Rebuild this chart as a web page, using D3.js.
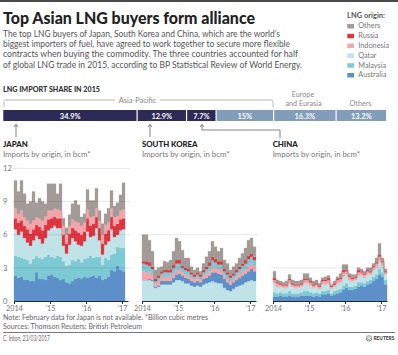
<!DOCTYPE html>
<html><head><meta charset="utf-8">
<script src="https://cdn.jsdelivr.net/npm/d3@7"></script>
<style>body{margin:0;background:#fff}svg{display:block}text{font-family:Lato,"Open Sans",sans-serif}</style>
</head><body><svg id="c" width="398" height="355"></svg>
<script>
// ---------- DATA ----------
const origins = ["Others","Russia","Indonesia","Qatar","Malaysia","Australia"];
const yearLabels = ["2014","'15","'16","'17"];
const yearTickMonths = [0,12,24,36];
const japanYTicks = [0,3,6,9,12];
const japanGrid = [3,6,9,12];
const koreaGrid = [3,6];
const chinaGrid = [3];

const shareRegions = ["Japan","South Korea","China","Other Asia-Pacific","Europe and Eurasia","Others"];
const shareValues = [34.9,12.9,7.7,15,16.3,13.2];
const shareLabels = ["34.9%","12.9%","7.7%","15%","16.3%","13.2%"];

// Japan, Jan 2014 - Jan 2017 (bcm)
const japanAustralia = [2.3,2.1,2.2,1.9,1.9,1.8,1.8,2.6,2.0,2.0,1.9,2.3, 2.4,2.2,2.1,1.9,2.0,1.7,1.6,1.8,2.0,2.1,2.0,2.2, 2.1,2.2,2.3,2.1,2.3,1.9,2.0,2.2,2.8,2.7,3.2,2.8, 2.7];
const japanMalaysia  = [1.8,1.9,1.7,1.9,1.8,1.6,2.0,1.5,1.9,1.8,2.1,1.9, 1.6,1.7,2.0,2.1,1.6,1.5,1.7,1.9,1.6,1.7,1.5,1.6, 1.8,1.9,1.6,1.9,1.7,1.4,1.9,1.5,1.4,1.6,1.7,2.0, 2.1];
const japanQatar     = [2.4,2.0,2.4,1.9,1.6,1.6,1.7,1.8,1.7,1.4,1.7,2.2, 2.6,2.9,2.5,2.6,1.4,1.1,1.8,2.0,1.8,1.3,1.5,1.6, 2.4,1.7,2.0,2.6,1.5,0.9,1.2,1.7,2.3,1.5,1.1,1.6, 1.7];
const japanRussia    = [1.0,1.1,1.0,1.1,1.2,1.1,1.0,1.0,1.1,1.2,1.2,1.0, 0.9,0.8,0.9,0.9,1.0,0.9,1.0,0.9,1.0,1.1,1.0,0.9, 1.2,1.0,1.1,1.0,1.1,1.0,1.0,1.0,1.1,1.0,1.0,1.0, 1.0];
const japanIndonesia = [0.9,0.8,0.9,0.8,0.8,0.9,0.8,0.7,0.8,0.9,0.8,0.8, 0.7,0.8,0.8,0.7,0.8,0.8,0.7,0.8,0.8,0.9,0.8,0.8, 0.8,0.8,0.7,0.8,0.7,0.8,0.8,0.7,0.8,0.8,0.7,0.8, 0.8];
const japanOthers    = [2.5,2.0,2.7,2.1,1.5,2.0,2.6,1.3,1.8,1.7,1.1,2.4, 2.4,2.2,1.4,2.4,0.7,0.6,1.0,1.4,1.9,1.6,0.8,0.8, 1.8,1.5,1.4,1.8,0.9,1.0,1.0,1.3,1.6,1.0,1.2,1.4, 2.4];

// South Korea, Jan 2014 - Feb 2017 (bcm)
const koreaQatar     = [1.9,1.9,1.9,1.8,1.2,1.3,1.5,1.5,1.5,1.5,1.7,1.9, 1.9,1.8,1.6,1.6,1.4,1.3,1.4,1.3,1.5,1.6,1.7,1.8, 1.7,1.6,1.6,1.2,1.0,0.9,1.1,1.3,1.4,1.5,1.7,1.8, 1.9,1.8];
const koreaAustralia = [0.0,0.0,0.1,0.1,0.1,0.1,0.3,0.3,0.3,0.3,0.4,0.5, 0.6,0.5,0.5,0.4,0.4,0.4,0.4,0.4,0.5,0.5,0.6,0.8, 0.9,0.9,0.8,0.8,0.7,0.6,0.6,0.6,0.7,0.8,0.8,0.9, 1.0,0.9];
const koreaIndonesia = [0.8,0.7,0.6,0.5,0.3,0.4,0.4,0.4,0.4,0.4,0.4,0.4, 0.4,0.3,0.3,0.3,0.3,0.3,0.3,0.3,0.3,0.4,0.4,0.5, 0.4,0.4,0.4,0.3,0.3,0.3,0.3,0.3,0.4,0.4,0.4,0.5, 0.5,0.5];
const koreaMalaysia  = [0.7,0.7,0.6,0.5,0.2,0.3,0.3,0.4,0.4,0.4,0.5,0.6, 0.5,0.4,0.4,0.4,0.3,0.2,0.3,0.2,0.3,0.4,0.5,0.6, 0.5,0.4,0.5,0.4,0.4,0.3,0.3,0.4,0.4,0.5,0.5,0.6, 0.6,0.5];
const koreaRussia    = [0.2,0.3,0.3,0.2,0.2,0.2,0.2,0.2,0.2,0.2,0.3,0.3, 0.3,0.2,0.2,0.2,0.2,0.2,0.2,0.2,0.2,0.2,0.3,0.3, 0.3,0.3,0.3,0.2,0.2,0.2,0.2,0.2,0.2,0.2,0.3,0.3, 0.3,0.3];
const koreaOthers    = [2.4,2.4,2.0,1.4,0.8,0.7,0.4,0.8,0.7,0.9,1.2,2.0, 1.7,1.4,0.9,1.0,0.5,0.4,0.4,0.3,0.6,0.9,1.0,1.4, 1.1,0.9,1.2,0.8,0.8,0.5,0.6,0.6,0.8,0.9,1.1,1.4, 1.4,0.9];

// China, Jan 2014 - Feb 2017 (bcm)
const chinaAustralia = [0.4,0.4,0.5,0.4,0.4,0.5,0.4,0.4,0.4,0.5,0.5,0.5, 0.5,0.4,0.5,0.4,0.6,0.6,0.7,0.5,0.6,0.7,0.8,1.0, 1.2,1.0,1.0,1.1,1.3,1.4,1.3,1.5,1.6,1.8,2.0,2.4, 2.2,1.5];
const chinaMalaysia  = [0.4,0.3,0.3,0.3,0.3,0.4,0.3,0.3,0.3,0.3,0.4,0.4, 0.3,0.3,0.3,0.3,0.3,0.3,0.3,0.2,0.3,0.3,0.3,0.4, 0.4,0.3,0.3,0.3,0.4,0.3,0.3,0.3,0.3,0.4,0.4,0.5, 0.4,0.4];
const chinaQatar     = [0.8,0.6,0.5,0.5,0.5,0.7,0.6,0.5,0.5,0.5,0.7,0.7, 0.6,0.5,0.5,0.4,0.6,0.6,0.6,0.4,0.4,0.6,0.6,0.8, 0.8,0.6,0.5,0.5,0.6,0.6,0.5,0.6,0.5,0.6,0.7,0.8, 0.6,0.5];
const chinaIndonesia = [0.3,0.3,0.2,0.2,0.2,0.3,0.2,0.2,0.2,0.2,0.3,0.3, 0.3,0.2,0.2,0.2,0.3,0.3,0.3,0.2,0.2,0.3,0.3,0.4, 0.3,0.3,0.2,0.2,0.3,0.3,0.3,0.3,0.2,0.3,0.3,0.3, 0.3,0.2];
const chinaRussia    = [0.2,0.1,0.1,0.1,0.1,0.1,0.1,0.1,0.1,0.1,0.1,0.1, 0.1,0.1,0.1,0.1,0.1,0.1,0.2,0.1,0.1,0.1,0.1,0.2, 0.1,0.1,0.1,0.1,0.2,0.1,0.1,0.1,0.1,0.1,0.1,0.2, 0.1,0.1];
const chinaOthers    = [0.6,0.2,0.2,0.2,0.3,0.4,0.3,0.3,0.3,0.3,0.5,0.5, 0.3,0.3,0.3,0.2,0.2,0.3,0.2,0.1,0.2,0.2,0.4,0.5, 0.5,0.2,0.3,0.2,0.2,0.2,0.2,0.2,0.3,0.2,0.4,1.0, 0.3,0.2];

// ---------- STYLE ----------
const originColors = {Others:"#a39b97", Russia:"#e0353f", Indonesia:"#f2a6ab", Qatar:"#c0e3e8", Malaysia:"#7dcad4", Australia:"#5d8fca"};
const svg = d3.select("#c");

// top rule
svg.append("rect").attr("x",0).attr("y",0).attr("width",398).attr("height",2).attr("fill","#4a4a4a");

// title
svg.append("text").attr("x",3).attr("y",24).attr("font-size",16.2).attr("font-weight",900)
  .attr("fill","#222").attr("textLength",252).attr("lengthAdjust","spacingAndGlyphs")
  .text("Top Asian LNG buyers form alliance");

const para = [
  ["The top LNG buyers of Japan, South Korea and China, which are the world\u2019s",277],
  ["biggest importers of fuel, have agreed to work together to secure more flexible",287],
  ["contracts when buying the commodity. The three countries accounted for half",295],
  ["of global LNG trade in 2015, according to BP Statistical Review of World Energy.",299]
];
para.forEach((p,i)=>{
  svg.append("text").attr("x",3).attr("y",36.7+i*10.33).attr("font-size",9.6).attr("fill","#555")
    .attr("textLength",p[1]).attr("lengthAdjust","spacingAndGlyphs").text(p[0]);
});

// legend
svg.append("text").attr("x",347).attr("y",18).attr("font-size",7.5).attr("font-weight",700).attr("fill","#555").text("LNG origin:");
origins.forEach((o,i)=>{
  svg.append("rect").attr("x",347.3).attr("y",24+i*9.8).attr("width",6.7).attr("height",4.5).attr("fill",originColors[o]);
  svg.append("text").attr("x",358.3).attr("y",28.3+i*9.8).attr("font-size",7.3).attr("fill","#777").text(o);
});

// share section
svg.append("text").attr("x",3).attr("y",92).attr("font-size",7.6).attr("font-weight",900).attr("fill","#333")
  .attr("textLength",97).attr("lengthAdjust","spacingAndGlyphs").text("LNG IMPORT SHARE IN 2015");

const sx = d3.scaleLinear().domain([0,100]).range([3.3,386.7]);
const cum = [0, ...d3.cumsum(shareValues)];
const barColors = ["#2c2a56","#2c2a56","#2c2a56","#819db9","#819db9","#819db9"];
shareValues.forEach((v,i)=>{
  const xa = sx(cum[i]), xb = sx(cum[i+1]);
  svg.append("rect").attr("x",xa + (i?0.6:0)).attr("y",110).attr("width",xb-xa-(i?0.6:0)-0.6).attr("height",11).attr("fill",barColors[i]);
  svg.append("text").attr("x",(xa+xb)/2).attr("y",118.6).attr("text-anchor","middle").attr("font-size",7.4)
    .attr("font-weight",700).attr("fill","#fff").text(shareLabels[i]);
});

// Asia-Pacific bracket
const br = "#a5a5a5";
svg.append("path").attr("d",`M4,107 L4,101.5 Q4,100 5.5,100 L115,100`).attr("fill","none").attr("stroke",br).attr("stroke-width",0.8);
svg.append("path").attr("d",`M160,100 L271.5,100 Q273,100 273,101.5 L273,107`).attr("fill","none").attr("stroke",br).attr("stroke-width",0.8);
svg.append("text").attr("x",137.5).attr("y",103).attr("text-anchor","middle").attr("font-size",7.4).attr("fill","#888").text("Asia-Pacific");
svg.append("text").attr("x",303).attr("y",96.8).attr("text-anchor","middle").attr("font-size",7.2).attr("fill","#888").text("Europe");
svg.append("text").attr("x",303.5).attr("y",105.8).attr("text-anchor","middle").attr("font-size",7.2).attr("fill","#888").text("and Eurasia");
svg.append("text").attr("x",360.5).attr("y",105.8).attr("text-anchor","middle").attr("font-size",7.2).attr("fill","#888").text("Others");

// arrows
const ac = "#666";
function arrowUp(x, yTop){
  svg.append("path").attr("d",`M${x-2},${yTop+2.5} L${x},${yTop} L${x+2},${yTop+2.5}`).attr("fill","none").attr("stroke",ac).attr("stroke-width",0.8);
}
svg.append("path").attr("d","M16,137 L16,124.5").attr("stroke",ac).attr("stroke-width",0.8);
arrowUp(16,124.5);
svg.append("path").attr("d","M150,137 L150,124.5").attr("stroke",ac).attr("stroke-width",0.8);
arrowUp(150,124.5);
svg.append("path").attr("d","M202,124.5 L202,130 L280,130 L280,138.5").attr("fill","none").attr("stroke",ac).attr("stroke-width",0.8);
arrowUp(202,124.5);

// panel headings
[[3,"JAPAN"],[142,"SOUTH KOREA"],[272.7,"CHINA"]].forEach(([x,t])=>{
  svg.append("text").attr("x",x).attr("y",147.3).attr("font-size",7.8).attr("font-weight",900).attr("fill","#222").text(t);
  svg.append("text").attr("x",x).attr("y",157.3).attr("font-size",7.8).attr("fill","#777").text("Imports by origin, in bcm*");
});

// panels
const y = d3.scaleLinear().domain([0,12]).range([301,168.4]);
function drawPanel(x0, series, order, gridVals, showY){
  const x = d3.scaleLinear().domain([0,38]).range([x0, x0+114]);
  const g = svg.append("g");
  const n = series[order[0]].length;
  const rows = d3.range(n).map(i=>{ const r={}; order.forEach(k=>r[k]=series[k][i]); return r; });
  rows.push(rows[n-1]);
  const stacked = d3.stack().keys(order)(rows);
  const area = d3.area().curve(d3.curveStepAfter).x((d,i)=>x(i)).y0(d=>y(d[0])).y1(d=>y(d[1]));
  g.selectAll("path.layer").data(stacked).join("path").attr("class","layer")
    .attr("d",area).attr("fill",d=>originColors[d.key]).attr("stroke",d=>originColors[d.key]).attr("stroke-width",0.3);
  g.selectAll("line.grid").data(gridVals).join("line").attr("class","grid")
    .attr("x1",x(0)-2).attr("x2",x(38)+2).attr("y1",d=>y(d)).attr("y2",d=>y(d))
    .attr("stroke","#000").attr("stroke-opacity",0.12).attr("stroke-width",0.8);
  const ax = d3.axisBottom(x).tickValues(yearTickMonths).tickFormat((d,i)=>yearLabels[i]).tickSize(3).tickSizeOuter(0).tickPadding(2);
  const ag = g.append("g").attr("transform",`translate(0,${y(0)})`).call(ax);
  ag.select(".domain").attr("stroke","#1f2b47").attr("stroke-width",1.1);
  ag.selectAll(".tick line").attr("stroke","#1f2b47");
  ag.selectAll(".tick text").attr("font-size",7.3).attr("fill","#777").attr("dy","0.68em").attr("font-family",'Lato,"Open Sans",sans-serif');
  if(showY){
    g.selectAll("text.yl").data(japanYTicks).join("text").attr("class","yl")
      .attr("x",3).attr("y",d=>y(d)).attr("dy","0.35em").attr("font-size",7.6).attr("fill","#777").text(d=>d);
  }
}
drawPanel(14, {Australia:japanAustralia, Malaysia:japanMalaysia, Qatar:japanQatar, Russia:japanRussia, Indonesia:japanIndonesia, Others:japanOthers},
  ["Australia","Malaysia","Qatar","Russia","Indonesia","Others"], japanGrid, true);
drawPanel(142, {Australia:koreaAustralia, Malaysia:koreaMalaysia, Qatar:koreaQatar, Russia:koreaRussia, Indonesia:koreaIndonesia, Others:koreaOthers},
  ["Qatar","Australia","Indonesia","Malaysia","Russia","Others"], koreaGrid, false);
drawPanel(273, {Australia:chinaAustralia, Malaysia:chinaMalaysia, Qatar:chinaQatar, Russia:chinaRussia, Indonesia:chinaIndonesia, Others:chinaOthers},
  ["Australia","Malaysia","Qatar","Indonesia","Russia","Others"], chinaGrid, false);

// footer
svg.append("text").attr("x",3).attr("y",320.2).attr("font-size",6.8).attr("fill","#666")
  .attr("textLength",205).attr("lengthAdjust","spacingAndGlyphs")
  .text("Note: February data for Japan is not available. *Billion cubic metres");
svg.append("text").attr("x",3).attr("y",328.8).attr("font-size",6.8).attr("fill","#666")
  .attr("textLength",139).attr("lengthAdjust","spacingAndGlyphs")
  .text("Sources: Thomson Reuters; British Petroleum");
svg.append("line").attr("x1",3).attr("x2",395).attr("y1",332.5).attr("y2",332.5).attr("stroke","#555").attr("stroke-width",0.8);
svg.append("text").attr("x",3).attr("y",340.5).attr("font-size",7).attr("fill","#666")
  .attr("textLength",47).attr("lengthAdjust","spacingAndGlyphs").text("C. Inton, 23/03/2017");
// Reuters logo
const lg = svg.append("g").attr("transform","translate(369,338.3)");
d3.range(12).forEach(k=>{
  const a = k/12*2*Math.PI;
  lg.append("circle").attr("cx",2.6*Math.cos(a)).attr("cy",2.6*Math.sin(a)).attr("r",0.55).attr("fill","#555");
});
d3.range(6).forEach(k=>{
  const a = k/6*2*Math.PI;
  lg.append("circle").attr("cx",1.3*Math.cos(a)).attr("cy",1.3*Math.sin(a)).attr("r",0.45).attr("fill","#555");
});
svg.append("text").attr("x",373.5).attr("y",340.4).attr("font-size",4.8).attr("font-weight",900).attr("fill","#444")
  .text("REUTERS");
</script>
</body></html>
